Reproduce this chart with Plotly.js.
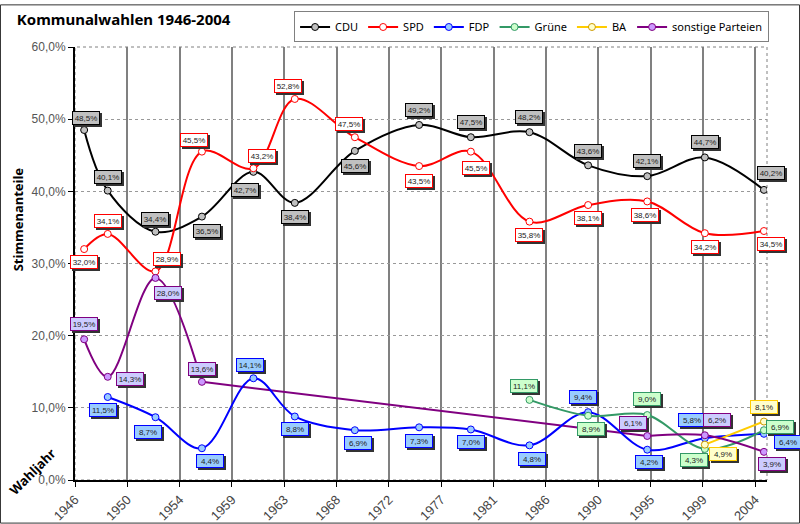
<!DOCTYPE html>
<html>
<head>
<meta charset="utf-8">
<script src="https://cdn.plot.ly/plotly-3.0.1.min.js"></script>
<style>html,body{margin:0;padding:0;background:#fff;}#chart{width:800px;height:524px;}</style>
</head>
<body>
<div id="chart"></div>
<script>
// ---- data ----
const electionDates = [1946.78, 1948.79, 1952.86, 1956.82, 1961.21, 1964.74, 1969.86, 1975.34, 1979.75, 1984.75, 1989.75, 1994.79, 1999.70, 2004.74];
const cdu      = [48.5, 40.1, 34.4, 36.5, 42.7, 38.4, 45.6, 49.2, 47.5, 48.2, 43.6, 42.1, 44.7, 40.2];
const spd      = [32.0, 34.1, 28.9, 45.5, 43.2, 52.8, 47.5, 43.5, 45.5, 35.8, 38.1, 38.6, 34.2, 34.5];
const fdp      = [null, 11.5, 8.7, 4.4, 14.1, 8.8, 6.9, 7.3, 7.0, 4.8, 9.4, 4.2, 5.8, 6.4];
const gruene   = [null, null, null, null, null, null, null, null, null, 11.1, 8.9, 9.0, 4.3, 6.9];
const ba       = [null, null, null, null, null, null, null, null, null, null, null, null, 4.9, 8.1];
const sonstige = [19.5, 14.3, 28.0, 13.6, null, null, null, null, null, null, null, 6.1, 6.2, 3.9];
const seriesNames = ['CDU', 'SPD', 'FDP', 'Grüne', 'BA', 'sonstige Parteien'];
const tickLabels = ['1946','1950','1954','1959','1963','1968','1972','1977','1981','1986','1990','1995','1999','2004'];
const yTicks = [0, 10, 20, 30, 40, 50, 60];

// ---- label placement (pixel offsets from the point, dy positive = down) ----
const cduOff  = [[2,-12],[0,-14],[0,-13],[5,14],[-8,18],[0,14],[0,15],[0,-15],[0,-15],[0,-15],[0,-14],[0,-15],[0,-15],[7,-17]];
const spdOff  = [[0,13],[0,-13],[12,-12],[-8,-12],[9,-12],[-7,-13],[-6,-13],[0,15],[5,16],[0,13],[0,13],[-2,14],[0,14],[7,13]];
const fdpOff  = [null,[-5,13],[-7,15],[8,13],[-3,-13],[0,13],[3,13],[0,14],[0,13],[3,14],[-5,-15],[2,12],[-13,-18],[24,8]];
const grOff   = [null,null,null,null,null,null,null,null,null,[-5,-14],[3,13],[0,-16],[-11,11],[16,-3]];
const baOff   = [null,null,null,null,null,null,null,null,null,null,null,null,[18,9],[0,-15]];
const soOff   = [[0,-15],[22,2],[13,15],[0,-13],null,null,null,null,null,null,null,[-14,-13],[12,-15],[8,12]];

// ---- styles ----
const styles = [
  {vals: cdu,      off: cduOff, line: '#000000', mkLine: '#000000', mk: '#c0c0c0', lblBg: '#c0c0c0', lblBorder: '#000000'},
  {vals: spd,      off: spdOff, line: '#ff0000', mkLine: '#ff0000', mk: '#ffffff', lblBg: '#ffffff', lblBorder: '#ff0000'},
  {vals: fdp,      off: fdpOff, line: '#0000ff', mkLine: '#0000ff', mk: '#99ccff', lblBg: '#99ccff', lblBorder: '#0000ff'},
  {vals: gruene,   off: grOff,  line: '#339966', mkLine: '#339966', mk: '#ccffcc', lblBg: '#ccffcc', lblBorder: '#339966'},
  {vals: ba,       off: baOff,  line: '#ffcc00', mkLine: '#cc9900', mk: '#ffffcc', lblBg: '#ffffcc', lblBorder: '#ffcc00'},
  {vals: sonstige, off: soOff,  line: '#800080', mkLine: '#800080', mk: '#cc99ff', lblBg: '#ccccff', lblBorder: '#800080'}
];

const traces = [];
// straight connector for "sonstige" across the years without values (drawn first, under the markers)
{
  const idx = sonstige.map((v, j) => v === null ? null : j).filter(j => j !== null);
  let a = null, b = null;
  for (let k = 0; k < idx.length - 1; k++) {
    if (idx[k + 1] - idx[k] > 1) { a = idx[k]; b = idx[k + 1]; }
  }
  if (a !== null) {
    traces.push({
      type: 'scatter', mode: 'lines', showlegend: false, hoverinfo: 'skip',
      x: [electionDates[a], electionDates[b]], y: [sonstige[a], sonstige[b]],
      line: {color: '#800080', width: 2}
    });
  }
}
styles.forEach((s, i) => {
  traces.push({
    type: 'scatter',
    mode: 'lines+markers',
    name: seriesNames[i],
    x: electionDates,
    y: s.vals,
    connectgaps: false,
    line: {color: s.line, width: 2, shape: 'spline', smoothing: 1},
    marker: {symbol: 'circle', size: 7, color: s.mk, line: {color: s.mkLine, width: 1}},
    hoverinfo: 'x+y'
  });
});

const fmt = v => v.toFixed(1).replace('.', ',') + '%';
const shadowAnn = [], labelAnn = [];
styles.forEach(s => {
  s.vals.forEach((v, j) => {
    if (v === null || !s.off[j]) return;
    const [dx, dy] = s.off[j];
    const base = {
      x: electionDates[j], y: v, xref: 'x', yref: 'y', showarrow: false,
      width: 24, height: 10, align: 'center', valign: 'middle',
      font: {family: 'Liberation Sans, Arial, sans-serif', size: 8, color: '#222'},
      borderpad: 1, borderwidth: 1
    };
    shadowAnn.push(Object.assign({}, base, {
      text: ' ', xshift: dx + 2, yshift: -dy - 2, bgcolor: '#333333', bordercolor: '#333333'
    }));
    labelAnn.push(Object.assign({}, base, {
      text: fmt(v), xshift: dx, yshift: -dy, bgcolor: s.lblBg, bordercolor: s.lblBorder
    }));
  });
});

const tickVals = tickLabels.map((t, i) => 1946 + i * (2004 - 1946) / (tickLabels.length - 1));

const extraAnn = [
  {xref: 'paper', yref: 'paper', x: -0.0824, y: 0.602, xanchor: 'center', yanchor: 'middle',
   text: '<b>Stimmenanteile</b>', textangle: -90,
   showarrow: false, font: {family: 'Noto Sans, sans-serif', size: 13, color: '#000'}},
  {xref: 'paper', yref: 'paper', x: -0.0607, y: 0.0206, xanchor: 'center', yanchor: 'middle',
   text: '<b>Wahljahr</b>', textangle: -45,
   showarrow: false, font: {family: 'Noto Sans, sans-serif', size: 13, color: '#000'}}
];

const layout = {
  width: 800, height: 524,
  margin: {l: 75, r: 33, t: 44, b: 44},
  paper_bgcolor: '#ffffff', plot_bgcolor: '#ffffff',
  showlegend: true,
  title: {
    text: '<b>Kommunalwahlen 1946-2004</b>',
    xref: 'container', yref: 'container', x: 0.021, xanchor: 'left', y: 0.962, yanchor: 'middle',
    font: {family: 'Comic Sans MS, Noto Sans, sans-serif', size: 15, color: '#000'}
  },
  legend: {
    orientation: 'h', x: 1.003, xanchor: 'right', y: 1.082, yanchor: 'top',
    bgcolor: '#ffffff', bordercolor: '#808080', borderwidth: 1,
    font: {family: 'Comic Sans MS, Noto Sans, sans-serif', size: 11, color: '#000'},
    itemwidth: 30, tracegroupgap: 0
  },
  xaxis: {
    range: [1946, 2005], tickmode: 'array', tickvals: tickVals, ticktext: tickLabels,
    tickangle: -45, ticks: 'outside', ticklen: 5, tickcolor: '#000', tickwidth: 1,
    tickfont: {family: 'Liberation Sans, Arial, sans-serif', size: 13, color: '#444'},
    showgrid: true, gridcolor: '#808080', gridwidth: 2,
    showline: true, linecolor: '#000', linewidth: 2, zeroline: false, fixedrange: true
  },
  yaxis: {
    range: [0, 60], tickmode: 'array', tickvals: yTicks, ticktext: yTicks.map(fmt),
    ticks: 'outside', ticklen: 5, tickcolor: '#000', tickwidth: 1,
    tickfont: {family: 'Liberation Sans, Arial, sans-serif', size: 12, color: '#555'},
    showgrid: true, gridcolor: '#999999', griddash: 'dot', gridwidth: 1,
    showline: true, linecolor: '#000', linewidth: 2, zeroline: false, fixedrange: true
  },
  shapes: [
    {type: 'rect', xref: 'paper', yref: 'paper', x0: 0, x1: 1, y0: 0, y1: 1,
     line: {color: '#808080', width: 1, dash: 'dot'}, layer: 'below'},
    {type: 'rect', xref: 'paper', yref: 'paper', x0: -0.1077, x1: 1.0470, y0: -0.0995, y1: 1.0973,
     line: {color: '#333333', width: 1}}
  ],
  annotations: shadowAnn.concat(labelAnn, extraAnn)
};

Plotly.newPlot('chart', traces, layout, {displayModeBar: false, staticPlot: true});
</script>
</body>
</html>
